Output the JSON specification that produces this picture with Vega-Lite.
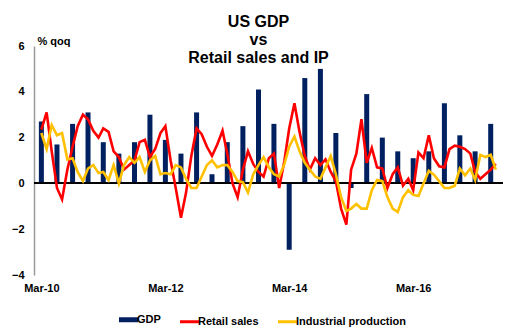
{
  "$schema": "https://vega.github.io/schema/vega-lite/v6.json",
  "width": 469,
  "height": 229,
  "autosize": {"type": "none"},
  "padding": {"left": 34, "top": 46, "right": 13, "bottom": 60},
  "background": "white",
  "title": {
    "text": ["US GDP", "vs", "Retail sales and IP"],
    "font": "Liberation Sans",
    "fontSize": 16,
    "fontWeight": "bold",
    "color": "#000",
    "lineHeight": 18,
    "anchor": "middle",
    "dx": -10,
    "offset": -31
  },
  "datasets": {
    "gdp": [
      {"date": "2010-03-01", "series": "GDP", "value": 2.7},
      {"date": "2010-06-01", "series": "GDP", "value": 1.7},
      {"date": "2010-09-01", "series": "GDP", "value": 2.6},
      {"date": "2010-12-01", "series": "GDP", "value": 3.1},
      {"date": "2011-03-01", "series": "GDP", "value": 1.8},
      {"date": "2011-06-01", "series": "GDP", "value": 1.3},
      {"date": "2011-09-01", "series": "GDP", "value": 1.8},
      {"date": "2011-12-01", "series": "GDP", "value": 3.0},
      {"date": "2012-03-01", "series": "GDP", "value": 1.9},
      {"date": "2012-06-01", "series": "GDP", "value": 1.3},
      {"date": "2012-09-01", "series": "GDP", "value": 3.1},
      {"date": "2012-12-01", "series": "GDP", "value": 0.4},
      {"date": "2013-03-01", "series": "GDP", "value": 1.8},
      {"date": "2013-06-01", "series": "GDP", "value": 2.5},
      {"date": "2013-09-01", "series": "GDP", "value": 4.1},
      {"date": "2013-12-01", "series": "GDP", "value": 2.6},
      {"date": "2014-03-01", "series": "GDP", "value": -2.9},
      {"date": "2014-06-01", "series": "GDP", "value": 4.6},
      {"date": "2014-09-01", "series": "GDP", "value": 5.0},
      {"date": "2014-12-01", "series": "GDP", "value": 2.2},
      {"date": "2015-03-01", "series": "GDP", "value": -0.2},
      {"date": "2015-06-01", "series": "GDP", "value": 3.9},
      {"date": "2015-09-01", "series": "GDP", "value": 2.0},
      {"date": "2015-12-01", "series": "GDP", "value": 1.4},
      {"date": "2016-03-01", "series": "GDP", "value": 1.1},
      {"date": "2016-06-01", "series": "GDP", "value": 1.4},
      {"date": "2016-09-01", "series": "GDP", "value": 3.5},
      {"date": "2016-12-01", "series": "GDP", "value": 2.1},
      {"date": "2017-03-01", "series": "GDP", "value": 1.4},
      {"date": "2017-06-01", "series": "GDP", "value": 2.6}
    ],
    "retail": [
      {"date": "2010-03-01", "series": "Retail sales", "value": 2.35},
      {"date": "2010-04-01", "series": "Retail sales", "value": 3.1},
      {"date": "2010-05-01", "series": "Retail sales", "value": 1.4},
      {"date": "2010-06-01", "series": "Retail sales", "value": -0.2},
      {"date": "2010-07-01", "series": "Retail sales", "value": -0.7},
      {"date": "2010-08-01", "series": "Retail sales", "value": 0.6},
      {"date": "2010-09-01", "series": "Retail sales", "value": 1.6},
      {"date": "2010-10-01", "series": "Retail sales", "value": 2.5},
      {"date": "2010-11-01", "series": "Retail sales", "value": 3.0},
      {"date": "2010-12-01", "series": "Retail sales", "value": 2.8},
      {"date": "2011-01-01", "series": "Retail sales", "value": 2.3},
      {"date": "2011-02-01", "series": "Retail sales", "value": 2.0},
      {"date": "2011-03-01", "series": "Retail sales", "value": 2.4},
      {"date": "2011-04-01", "series": "Retail sales", "value": 2.25},
      {"date": "2011-05-01", "series": "Retail sales", "value": 1.4},
      {"date": "2011-06-01", "series": "Retail sales", "value": 1.15},
      {"date": "2011-07-01", "series": "Retail sales", "value": 0.6},
      {"date": "2011-08-01", "series": "Retail sales", "value": 0.8},
      {"date": "2011-09-01", "series": "Retail sales", "value": 1.0},
      {"date": "2011-10-01", "series": "Retail sales", "value": 1.8},
      {"date": "2011-11-01", "series": "Retail sales", "value": 1.9},
      {"date": "2011-12-01", "series": "Retail sales", "value": 1.15},
      {"date": "2012-01-01", "series": "Retail sales", "value": 1.5},
      {"date": "2012-02-01", "series": "Retail sales", "value": 2.2},
      {"date": "2012-03-01", "series": "Retail sales", "value": 2.5},
      {"date": "2012-04-01", "series": "Retail sales", "value": 1.0},
      {"date": "2012-05-01", "series": "Retail sales", "value": -0.2},
      {"date": "2012-06-01", "series": "Retail sales", "value": -1.5},
      {"date": "2012-07-01", "series": "Retail sales", "value": -0.4},
      {"date": "2012-08-01", "series": "Retail sales", "value": 1.2},
      {"date": "2012-09-01", "series": "Retail sales", "value": 2.4},
      {"date": "2012-10-01", "series": "Retail sales", "value": 2.15},
      {"date": "2012-11-01", "series": "Retail sales", "value": 1.6},
      {"date": "2012-12-01", "series": "Retail sales", "value": 1.2},
      {"date": "2013-01-01", "series": "Retail sales", "value": 1.7},
      {"date": "2013-02-01", "series": "Retail sales", "value": 2.3},
      {"date": "2013-03-01", "series": "Retail sales", "value": 1.3},
      {"date": "2013-04-01", "series": "Retail sales", "value": 0.0},
      {"date": "2013-05-01", "series": "Retail sales", "value": -0.6},
      {"date": "2013-06-01", "series": "Retail sales", "value": 0.6},
      {"date": "2013-07-01", "series": "Retail sales", "value": 1.4},
      {"date": "2013-08-01", "series": "Retail sales", "value": 0.85},
      {"date": "2013-09-01", "series": "Retail sales", "value": 0.5},
      {"date": "2013-10-01", "series": "Retail sales", "value": 0.3},
      {"date": "2013-11-01", "series": "Retail sales", "value": 1.1},
      {"date": "2013-12-01", "series": "Retail sales", "value": 1.3},
      {"date": "2014-01-01", "series": "Retail sales", "value": -0.2},
      {"date": "2014-02-01", "series": "Retail sales", "value": 1.0},
      {"date": "2014-03-01", "series": "Retail sales", "value": 2.4},
      {"date": "2014-04-01", "series": "Retail sales", "value": 3.5},
      {"date": "2014-05-01", "series": "Retail sales", "value": 2.25},
      {"date": "2014-06-01", "series": "Retail sales", "value": 1.2},
      {"date": "2014-07-01", "series": "Retail sales", "value": 0.6},
      {"date": "2014-08-01", "series": "Retail sales", "value": 1.1},
      {"date": "2014-09-01", "series": "Retail sales", "value": 0.8},
      {"date": "2014-10-01", "series": "Retail sales", "value": 1.05},
      {"date": "2014-11-01", "series": "Retail sales", "value": 0.5},
      {"date": "2014-12-01", "series": "Retail sales", "value": 0.1},
      {"date": "2015-01-01", "series": "Retail sales", "value": -1.1},
      {"date": "2015-02-01", "series": "Retail sales", "value": -1.8},
      {"date": "2015-03-01", "series": "Retail sales", "value": 0.6},
      {"date": "2015-04-01", "series": "Retail sales", "value": 1.3},
      {"date": "2015-05-01", "series": "Retail sales", "value": 2.8},
      {"date": "2015-06-01", "series": "Retail sales", "value": 0.9},
      {"date": "2015-07-01", "series": "Retail sales", "value": 1.55},
      {"date": "2015-08-01", "series": "Retail sales", "value": 0.7},
      {"date": "2015-09-01", "series": "Retail sales", "value": 0.65},
      {"date": "2015-10-01", "series": "Retail sales", "value": -0.2},
      {"date": "2015-11-01", "series": "Retail sales", "value": 0.4},
      {"date": "2015-12-01", "series": "Retail sales", "value": 0.7},
      {"date": "2016-01-01", "series": "Retail sales", "value": -0.1},
      {"date": "2016-02-01", "series": "Retail sales", "value": 0.2},
      {"date": "2016-03-01", "series": "Retail sales", "value": -0.3},
      {"date": "2016-04-01", "series": "Retail sales", "value": 1.35},
      {"date": "2016-05-01", "series": "Retail sales", "value": 1.1},
      {"date": "2016-06-01", "series": "Retail sales", "value": 2.1},
      {"date": "2016-07-01", "series": "Retail sales", "value": 1.1},
      {"date": "2016-08-01", "series": "Retail sales", "value": 0.75},
      {"date": "2016-09-01", "series": "Retail sales", "value": 0.7},
      {"date": "2016-10-01", "series": "Retail sales", "value": 1.5},
      {"date": "2016-11-01", "series": "Retail sales", "value": 1.65},
      {"date": "2016-12-01", "series": "Retail sales", "value": 1.6},
      {"date": "2017-01-01", "series": "Retail sales", "value": 1.5},
      {"date": "2017-02-01", "series": "Retail sales", "value": 1.3},
      {"date": "2017-03-01", "series": "Retail sales", "value": 0.5},
      {"date": "2017-04-01", "series": "Retail sales", "value": 0.2},
      {"date": "2017-05-01", "series": "Retail sales", "value": 0.4},
      {"date": "2017-06-01", "series": "Retail sales", "value": 0.6},
      {"date": "2017-07-01", "series": "Retail sales", "value": 0.85}
    ],
    "ip": [
      {"date": "2010-03-01", "series": "Industrial production", "value": 2.2},
      {"date": "2010-04-01", "series": "Industrial production", "value": 1.5},
      {"date": "2010-05-01", "series": "Industrial production", "value": 2.55},
      {"date": "2010-06-01", "series": "Industrial production", "value": 2.1},
      {"date": "2010-07-01", "series": "Industrial production", "value": 2.2},
      {"date": "2010-08-01", "series": "Industrial production", "value": 1.05},
      {"date": "2010-09-01", "series": "Industrial production", "value": 1.1},
      {"date": "2010-10-01", "series": "Industrial production", "value": 0.5},
      {"date": "2010-11-01", "series": "Industrial production", "value": 0.1},
      {"date": "2010-12-01", "series": "Industrial production", "value": 0.65},
      {"date": "2011-01-01", "series": "Industrial production", "value": 0.8},
      {"date": "2011-02-01", "series": "Industrial production", "value": 0.45},
      {"date": "2011-03-01", "series": "Industrial production", "value": 0.5},
      {"date": "2011-04-01", "series": "Industrial production", "value": 0.15},
      {"date": "2011-05-01", "series": "Industrial production", "value": 0.8},
      {"date": "2011-06-01", "series": "Industrial production", "value": 0.0},
      {"date": "2011-07-01", "series": "Industrial production", "value": 0.8},
      {"date": "2011-08-01", "series": "Industrial production", "value": 1.15},
      {"date": "2011-09-01", "series": "Industrial production", "value": 0.9},
      {"date": "2011-10-01", "series": "Industrial production", "value": 1.15},
      {"date": "2011-11-01", "series": "Industrial production", "value": 0.5},
      {"date": "2011-12-01", "series": "Industrial production", "value": 1.0},
      {"date": "2012-01-01", "series": "Industrial production", "value": 1.2},
      {"date": "2012-02-01", "series": "Industrial production", "value": 0.4},
      {"date": "2012-03-01", "series": "Industrial production", "value": 0.45},
      {"date": "2012-04-01", "series": "Industrial production", "value": 0.4},
      {"date": "2012-05-01", "series": "Industrial production", "value": 0.8},
      {"date": "2012-06-01", "series": "Industrial production", "value": 0.7},
      {"date": "2012-07-01", "series": "Industrial production", "value": 0.2},
      {"date": "2012-08-01", "series": "Industrial production", "value": -0.2},
      {"date": "2012-09-01", "series": "Industrial production", "value": -0.2},
      {"date": "2012-10-01", "series": "Industrial production", "value": 0.3},
      {"date": "2012-11-01", "series": "Industrial production", "value": 0.8},
      {"date": "2012-12-01", "series": "Industrial production", "value": 1.0},
      {"date": "2013-01-01", "series": "Industrial production", "value": 0.7},
      {"date": "2013-02-01", "series": "Industrial production", "value": 0.8},
      {"date": "2013-03-01", "series": "Industrial production", "value": 0.8},
      {"date": "2013-04-01", "series": "Industrial production", "value": 0.5},
      {"date": "2013-05-01", "series": "Industrial production", "value": 0.1},
      {"date": "2013-06-01", "series": "Industrial production", "value": 0.05},
      {"date": "2013-07-01", "series": "Industrial production", "value": -0.4},
      {"date": "2013-08-01", "series": "Industrial production", "value": 0.4},
      {"date": "2013-09-01", "series": "Industrial production", "value": 0.8},
      {"date": "2013-10-01", "series": "Industrial production", "value": 1.15},
      {"date": "2013-11-01", "series": "Industrial production", "value": 0.7},
      {"date": "2013-12-01", "series": "Industrial production", "value": 0.4},
      {"date": "2014-01-01", "series": "Industrial production", "value": 0.3},
      {"date": "2014-02-01", "series": "Industrial production", "value": 0.85},
      {"date": "2014-03-01", "series": "Industrial production", "value": 1.6},
      {"date": "2014-04-01", "series": "Industrial production", "value": 2.05},
      {"date": "2014-05-01", "series": "Industrial production", "value": 1.4},
      {"date": "2014-06-01", "series": "Industrial production", "value": 0.9},
      {"date": "2014-07-01", "series": "Industrial production", "value": 0.6},
      {"date": "2014-08-01", "series": "Industrial production", "value": 0.3},
      {"date": "2014-09-01", "series": "Industrial production", "value": 0.2},
      {"date": "2014-10-01", "series": "Industrial production", "value": 0.7},
      {"date": "2014-11-01", "series": "Industrial production", "value": 1.2},
      {"date": "2014-12-01", "series": "Industrial production", "value": 0.4},
      {"date": "2015-01-01", "series": "Industrial production", "value": -0.6},
      {"date": "2015-02-01", "series": "Industrial production", "value": -1.2},
      {"date": "2015-03-01", "series": "Industrial production", "value": -1.1},
      {"date": "2015-04-01", "series": "Industrial production", "value": -0.9},
      {"date": "2015-05-01", "series": "Industrial production", "value": -1.1},
      {"date": "2015-06-01", "series": "Industrial production", "value": -1.1},
      {"date": "2015-07-01", "series": "Industrial production", "value": -0.3},
      {"date": "2015-08-01", "series": "Industrial production", "value": 0.15},
      {"date": "2015-09-01", "series": "Industrial production", "value": 0.1},
      {"date": "2015-10-01", "series": "Industrial production", "value": -0.6},
      {"date": "2015-11-01", "series": "Industrial production", "value": -1.1},
      {"date": "2015-12-01", "series": "Industrial production", "value": -1.25},
      {"date": "2016-01-01", "series": "Industrial production", "value": -0.6},
      {"date": "2016-02-01", "series": "Industrial production", "value": -0.3},
      {"date": "2016-03-01", "series": "Industrial production", "value": -0.5},
      {"date": "2016-04-01", "series": "Industrial production", "value": -0.55},
      {"date": "2016-05-01", "series": "Industrial production", "value": 0.0},
      {"date": "2016-06-01", "series": "Industrial production", "value": 0.55},
      {"date": "2016-07-01", "series": "Industrial production", "value": 0.38},
      {"date": "2016-08-01", "series": "Industrial production", "value": 0.1},
      {"date": "2016-09-01", "series": "Industrial production", "value": -0.2},
      {"date": "2016-10-01", "series": "Industrial production", "value": -0.2},
      {"date": "2016-11-01", "series": "Industrial production", "value": -0.1},
      {"date": "2016-12-01", "series": "Industrial production", "value": 0.65},
      {"date": "2017-01-01", "series": "Industrial production", "value": 0.35},
      {"date": "2017-02-01", "series": "Industrial production", "value": 0.65},
      {"date": "2017-03-01", "series": "Industrial production", "value": 0.15},
      {"date": "2017-04-01", "series": "Industrial production", "value": 1.25},
      {"date": "2017-05-01", "series": "Industrial production", "value": 1.15},
      {"date": "2017-06-01", "series": "Industrial production", "value": 1.25},
      {"date": "2017-07-01", "series": "Industrial production", "value": 0.6}
    ]
  },
  "config": {
    "view": {"stroke": null},
    "font": "Liberation Sans",
    "axis": {
      "labelFont": "Liberation Sans",
      "labelFontSize": 11,
      "labelFontWeight": "bold",
      "labelColor": "#000",
      "grid": false,
      "ticks": false
    },
    "legend": {
      "orient": "none",
      "legendX": 89,
      "legendY": 268,
      "direction": "horizontal",
      "symbolType": "stroke",
      "symbolSize": 361,
      "symbolStrokeWidth": 3,
      "labelFont": "Liberation Sans",
      "labelFontSize": 11,
      "labelFontWeight": "bold",
      "labelColor": "#000",
      "labelOffset": 3,
      "columnPadding": 13
    }
  },
  "encoding": {
    "x": {
      "field": "date",
      "type": "temporal",
      "title": null,
      "scale": {
        "type": "utc",
        "domain": [
          {"year": 2010, "month": 2, "date": 15, "utc": true},
          {"year": 2017, "month": 7, "date": 14, "utc": true}
        ]
      },
      "axis": {
        "orient": "bottom",
        "domain": false,
        "labelPadding": 7,
        "labelExpr": "utcFormat(datum.value, '%b-%y')",
        "labelAlign": "center",
        "labelFlush": false,
        "values": [
          {"year": 2010, "month": 3, "date": 1, "utc": true},
          {"year": 2012, "month": 3, "date": 1, "utc": true},
          {"year": 2014, "month": 3, "date": 1, "utc": true},
          {"year": 2016, "month": 3, "date": 1, "utc": true}
        ]
      }
    },
    "y": {
      "field": "value",
      "type": "quantitative",
      "scale": {"domain": [-4, 6], "nice": false, "zero": false},
      "axis": {
        "title": "% qoq",
        "titleAngle": 0,
        "titleX": 3,
        "titleY": -2,
        "titleAlign": "left",
        "titleBaseline": "alphabetic",
        "titleFont": "Liberation Sans",
        "titleFontSize": 11,
        "titleFontWeight": "bold",
        "titleColor": "#000",
        "values": [-4, -2, 0, 2, 4, 6],
        "domainColor": "#999999",
        "domainWidth": 1.5,
        "labelPadding": 10
      }
    },
    "color": {
      "field": "series",
      "type": "nominal",
      "scale": {"domain": ["GDP", "Retail sales", "Industrial production"], "range": ["#002060", "#ff0000", "#ffc000"]},
      "legend": {
        "title": null,
        "encode": {"symbols": {"update": {"stroke": {"scale": "color", "field": "value"}, "strokeWidth": {"signal": "datum.value === 'GDP' ? 5 : 3"}, "fill": {"value": "transparent"}}}}
      }
    }
  },
  "layer": [
    {
      "data": {"name": "gdp"},
      "mark": {"type": "bar", "size": 5}
    },
    {
      "data": {"name": "gdp"},
      "mark": {"type": "rule", "color": "#000000", "strokeWidth": 1},
      "encoding": {"x": null, "color": null, "y": {"datum": 0, "type": "quantitative"}}
    },
    {
      "data": {"name": "retail"},
      "mark": {"type": "line", "strokeWidth": 2.6}
    },
    {
      "data": {"name": "ip"},
      "mark": {"type": "line", "strokeWidth": 2.6}
    }
  ]
}
